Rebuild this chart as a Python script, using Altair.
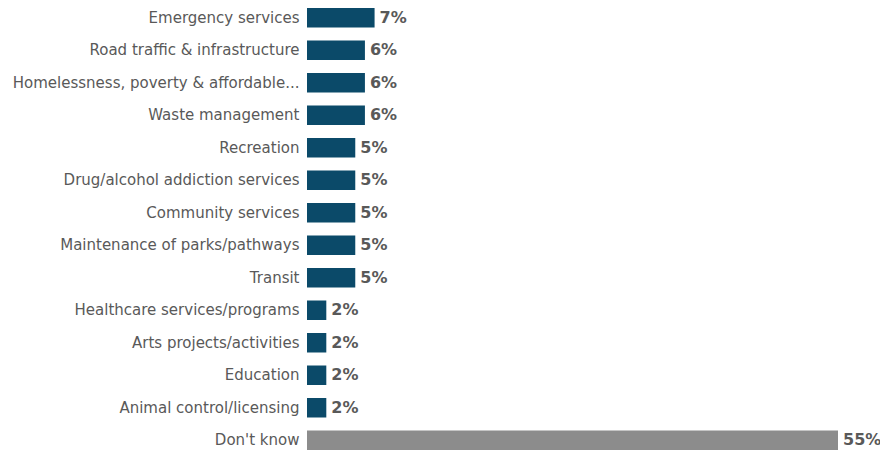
import altair as alt
import pandas as pd

categories = [
    "Emergency services",
    "Road traffic & infrastructure",
    "Homelessness, poverty & affordable...",
    "Waste management",
    "Recreation",
    "Drug/alcohol addiction services",
    "Community services",
    "Maintenance of parks/pathways",
    "Transit",
    "Healthcare services/programs",
    "Arts projects/activities",
    "Education",
    "Animal control/licensing",
    "Don't know",
]
values = [7, 6, 6, 6, 5, 5, 5, 5, 5, 2, 2, 2, 2, 55]
groups = ["main"] * 13 + ["dk"]

df = pd.DataFrame({"category": categories, "value": values, "group": groups})
df["label"] = df["value"].astype(str) + "%"

y = alt.Y("category:N", sort=categories, title=None,
          scale=alt.Scale(paddingInner=0.4, paddingOuter=0.0),
          axis=alt.Axis(ticks=False, domain=False, labelPadding=8, labelLimit=400,
                        labelFont="DejaVu Sans", labelFontSize=15, labelColor="#595959"))
x = alt.X("value:Q", title=None, scale=alt.Scale(domain=[0, 55], nice=False), axis=None)

bars = alt.Chart(df).mark_bar().encode(
    x=x, y=y,
    color=alt.Color("group:N", scale=alt.Scale(domain=["main", "dk"], range=["#0b4a69", "#8c8c8c"]), legend=None),
)
text = alt.Chart(df).mark_text(align="left", baseline="middle", dx=5, font="DejaVu Sans",
                               fontSize=16, fontWeight="bold", color="#595959").encode(
    x=x, y=y, text="label:N"
)

chart = (bars + text).properties(
    width=531, height=442,
    autosize=alt.AutoSizeParams(type="none"),
    padding={"left": 299, "top": 0, "right": 42, "bottom": 0},
).configure_view(stroke=None)

chart.save("out.html", embed_options={"renderer": "svg", "actions": False})
